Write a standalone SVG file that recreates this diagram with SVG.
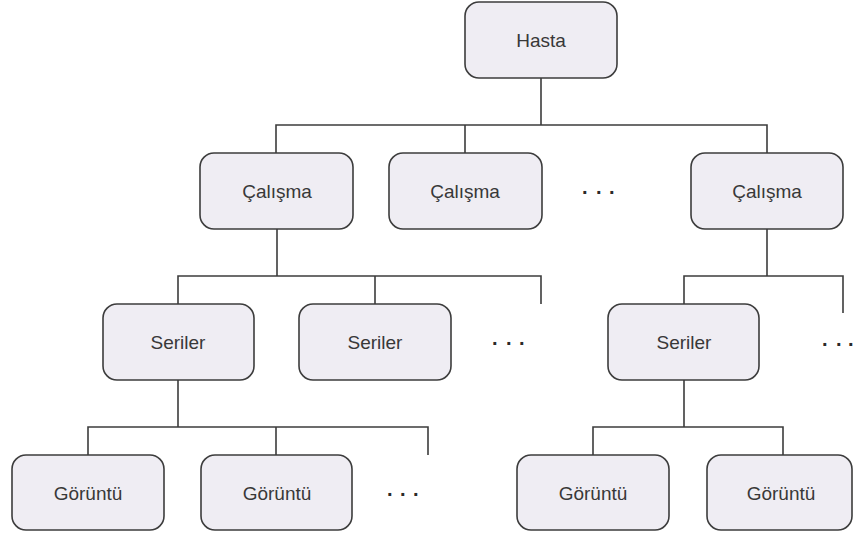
<svg xmlns="http://www.w3.org/2000/svg" width="854" height="535" viewBox="0 0 854 535">
  <style>
    .box { fill: #efedf3; stroke: #3c3c3c; stroke-width: 1.6; }
    .lbl { font-family: "Liberation Sans", Arial, sans-serif; font-size: 19px; fill: #383838; text-anchor: middle; dominant-baseline: central; }
    .dots { font-family: "Liberation Sans", Arial, sans-serif; font-size: 20px; font-weight: bold; fill: #2a2a2a; }
    .wire { fill: none; stroke: #3c3c3c; stroke-width: 1.6; }
  </style>
  <rect width="854" height="535" fill="#ffffff"/>

  <g id="connectors">
    <!-- Hasta to studies -->
    <path class="wire" d="M541 78 V125 M276 153 V125 H767 V153 M465 125 V153"/>
    <!-- first study to series -->
    <path class="wire" d="M277 229 V276 M178 304 V276 H541 V304 M375 276 V304"/>
    <!-- last study to series -->
    <path class="wire" d="M767 229 V276 M684 304 V276 H843 V313"/>
    <!-- first series to images -->
    <path class="wire" d="M178 380 V427 M88 455 V427 H428 V455 M276 427 V455"/>
    <!-- last series to images -->
    <path class="wire" d="M684 380 V427 M593 455 V427 H783 V455"/>
  </g>

  <g id="hasta">
    <rect class="box" x="465" y="2" width="152" height="76" rx="14"/>
    <text class="lbl" x="541" y="40">Hasta</text>
  </g>

  <g id="calisma-1">
    <rect class="box" x="200" y="153" width="153" height="76" rx="14"/>
    <text class="lbl" x="277" y="191">Çalışma</text>
  </g>
  <g id="calisma-2">
    <rect class="box" x="389" y="153" width="153" height="76" rx="14"/>
    <text class="lbl" x="465" y="191">Çalışma</text>
  </g>
  <g id="calisma-3">
    <rect class="box" x="691" y="153" width="152" height="76" rx="14"/>
    <text class="lbl" x="767" y="191">Çalışma</text>
  </g>
  <text class="dots" x="582 596 609" y="194">...</text>

  <g id="seriler-1">
    <rect class="box" x="103" y="304" width="151" height="76" rx="14"/>
    <text class="lbl" x="178" y="342">Seriler</text>
  </g>
  <g id="seriler-2">
    <rect class="box" x="299" y="304" width="152" height="76" rx="14"/>
    <text class="lbl" x="375" y="342">Seriler</text>
  </g>
  <g id="seriler-3">
    <rect class="box" x="608" y="304" width="151" height="76" rx="14"/>
    <text class="lbl" x="684" y="342">Seriler</text>
  </g>
  <text class="dots" x="492 506 519" y="345">...</text>
  <text class="dots" x="822 836 848" y="346">...</text>

  <g id="goruntu-1">
    <rect class="box" x="12" y="455" width="152" height="75" rx="14"/>
    <text class="lbl" x="88" y="493">Görüntü</text>
  </g>
  <g id="goruntu-2">
    <rect class="box" x="201" y="455" width="151" height="75" rx="14"/>
    <text class="lbl" x="277" y="493">Görüntü</text>
  </g>
  <g id="goruntu-3">
    <rect class="box" x="517" y="455" width="152" height="75" rx="14"/>
    <text class="lbl" x="593" y="493">Görüntü</text>
  </g>
  <g id="goruntu-4">
    <rect class="box" x="707" y="455" width="145" height="75" rx="14"/>
    <text class="lbl" x="781" y="493">Görüntü</text>
  </g>
  <text class="dots" x="387 400 413" y="496">...</text>
</svg>
